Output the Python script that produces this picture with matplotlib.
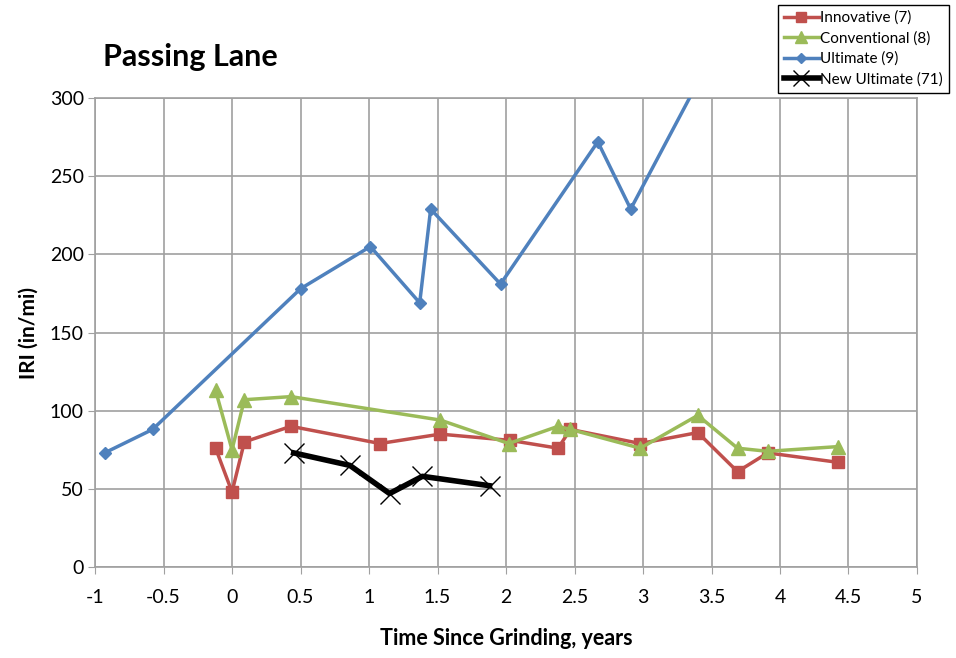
import matplotlib
matplotlib.use("Agg")
import matplotlib.pyplot as plt

plt.rcParams['font.family'] = ['Lato', 'DejaVu Sans']

# IRI readings vs. time since grinding
inno_t = [-0.12, 0.0, 0.09, 0.43, 1.08, 1.52, 2.03, 2.38, 2.47, 2.98, 3.40, 3.69, 3.91, 4.42]
inno_iri = [76, 48, 80, 90, 79, 85, 81, 76, 88, 79, 86, 61, 73, 67]

conv_t = [-0.12, 0.0, 0.09, 0.43, 1.52, 2.02, 2.38, 2.47, 2.98, 3.40, 3.69, 3.91, 4.42]
conv_iri = [113, 75, 107, 109, 94, 79, 90, 88, 76, 97, 76, 74, 77]

ult_t = [-0.93, -0.58, 0.50, 1.01, 1.37, 1.45, 1.96, 2.67, 2.91, 3.40]
ult_iri = [73, 88, 178, 205, 169, 229, 181, 272, 229, 310]

new_t = [0.45, 0.86, 1.15, 1.39, 1.88]
new_iri = [73, 65, 47, 58, 52]

fig = plt.figure(figsize=(9.56, 6.58), dpi=100)
ax = fig.add_axes([0.0994, 0.1383, 0.8598, 0.7127])

ax.plot(inno_t, inno_iri, color='#C0504D', lw=2.5, marker='s', ms=9,
        label='Innovative (7)', zorder=3)
ax.plot(conv_t, conv_iri, color='#9BBB59', lw=2.5, marker='^', ms=10,
        label='Conventional (8)', zorder=3)
ax.plot(ult_t, ult_iri, color='#4F81BD', lw=2.5, marker='D', ms=6.5,
        label='Ultimate (9)', zorder=3)
ax.plot(new_t, new_iri, color='black', lw=4, marker='x', ms=15, mew=1,
        label='New Ultimate (71)', zorder=4)

ax.set_xlim(-1, 5)
ax.set_ylim(0, 300)
xt = [-1, -0.5, 0, 0.5, 1, 1.5, 2, 2.5, 3, 3.5, 4, 4.5, 5]
ax.set_xticks(xt)
ax.set_xticklabels([f'{v:g}' for v in xt])
ax.set_yticks(range(0, 301, 50))
ax.tick_params(labelsize=14, length=5, color='#a0a0a0', direction='out')
ax.tick_params(axis='x', pad=11)
ax.tick_params(axis='y', pad=3)
ax.grid(True, color='#a0a0a0', lw=1.2)
ax.set_axisbelow(True)
for s in ax.spines.values():
    s.set_color('#a0a0a0')
    s.set_linewidth(1.2)

ax.set_xlabel('Time Since Grinding, years', fontsize=15.5, fontweight='bold', labelpad=16)
ax.set_ylabel('IRI (in/mi)', fontsize=15, fontweight='bold', labelpad=8)

fig.text(0.108, 0.913, 'Passing Lane', fontsize=22, fontweight='bold', va='center')

leg = fig.legend(loc='upper right', bbox_to_anchor=(0.993, 0.993), fontsize=11,
                 fancybox=False, edgecolor='black', framealpha=1, markerscale=0.8,
                 handlelength=2.3, handletextpad=0.1, borderpad=0.4,
                 labelspacing=0.4, borderaxespad=0)
leg.get_frame().set_linewidth(1)

fig.savefig('out.png', dpi=100)
